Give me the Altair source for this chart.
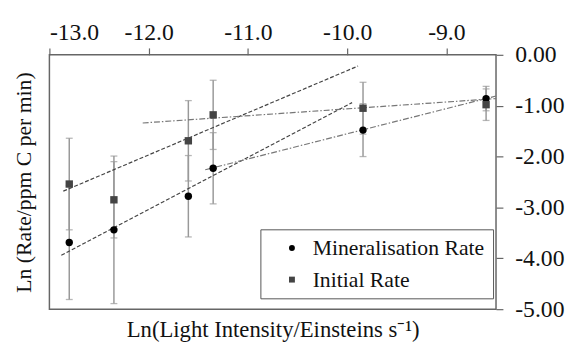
import altair as alt
import pandas as pd

# ---- data ----
ln_light = [-12.80, -12.35, -11.60, -11.35, -9.84, -8.60]
mineral_rate = [-3.69, -3.44, -2.78, -2.23, -1.48, -0.86]
mineral_err = [1.12, 1.45, 0.80, 0.70, 0.52, 0.24]
initial_rate = [-2.54, -2.85, -1.69, -1.18, -1.05, -0.98]
initial_err = [0.90, 0.75, 0.79, 0.68, 0.51, 0.31]

series_names = ["Mineralisation Rate", "Initial Rate"]

# fitted trend lines (end points)
fit_names = ["min_low", "init_low", "init_high", "min_high"]
fit_style = ["dashed", "dashed", "dashdot", "dashdot"]
fit_x = [[-12.88, -9.95], [-12.86, -9.89], [-12.06, -8.50], [-11.43, -8.50]]
fit_y = [[-3.94, -0.94], [-2.68, -0.22], [-1.34, -0.86], [-2.26, -0.81]]

x_ticks = [-13.0, -12.0, -11.0, -10.0, -9.0]
y_ticks = [0.0, -1.0, -2.0, -3.0, -4.0, -5.0]
x_domain = [-13.0, -8.5]
y_domain = [-5.0, 0.0]

x_title = "Ln(Light Intensity/Einsteins s\u207b\u00b9)"
y_title = "Ln (Rate/ppm C per min)"

# ---- tables ----
rows = []
for name, vals, errs in [(series_names[0], mineral_rate, mineral_err),
                         (series_names[1], initial_rate, initial_err)]:
    for x, v, e in zip(ln_light, vals, errs):
        rows.append({"x": x, "y": v, "lo": v - e, "hi": v + e, "series": name})
pts = pd.DataFrame(rows)

caps = pd.concat([
    pts[["x", "lo", "series"]].rename(columns={"lo": "cap"}),
    pts[["x", "hi", "series"]].rename(columns={"hi": "cap"}),
], ignore_index=True)

lrows = []
for n, s, xs_, ys_ in zip(fit_names, fit_style, fit_x, fit_y):
    for i, (xx, yy) in enumerate(zip(xs_, ys_)):
        lrows.append({"fit": n, "style": s, "x": xx, "y": yy, "order": i})
lines = pd.DataFrame(lrows)

FONT = "Liberation Serif"
xs = alt.Scale(domain=x_domain, nice=False, zero=False)
ys = alt.Scale(domain=y_domain, nice=False, zero=False)

x_top = alt.Axis(orient="top", values=x_ticks, title=None, domain=False, grid=False,
                 tickSize=7, tickColor="#666", tickWidth=1.2,
                 labelFont=FONT, labelFontSize=24, labelColor="#111", labelPadding=4,
                 labelExpr="replace(format(datum.value, '.1f'), '\u2212', '-')")
y_right = alt.Axis(orient="right", values=y_ticks, title=None, domain=False, grid=False,
                   tickSize=7, tickColor="#666", tickWidth=1.2,
                   labelFont=FONT, labelFontSize=24, labelColor="#111", labelPadding=12,
                   labelExpr="replace(format(datum.value, '.2f'), '\u2212', '-')")
x_bottom = alt.Axis(orient="bottom", labels=False, ticks=False, domain=False, grid=False,
                    title=x_title, titleFont=FONT, titleFontSize=23, titleFontWeight="normal",
                    titleColor="#111", titlePadding=10, titleLimit=0)
y_left = alt.Axis(orient="left", labels=False, ticks=False, domain=False, grid=False,
                  title=y_title, titleFont=FONT, titleFontSize=22, titleFontWeight="normal",
                  titleColor="#111", titlePadding=14, titleLimit=0)

err_rules = alt.Chart(pts).mark_rule(color="#999999", strokeWidth=1.5).encode(
    x=alt.X("x:Q", scale=xs, axis=x_top),
    y=alt.Y("lo:Q", scale=ys, axis=y_right),
    y2="hi:Q",
)

err_caps = alt.Chart(caps).mark_tick(orient="horizontal", color="#999999",
                                     size=7, thickness=1.3).encode(
    x=alt.X("x:Q", scale=xs, axis=None),
    y=alt.Y("cap:Q", scale=ys, axis=None),
)

dashed = alt.Chart(lines[lines["style"] == "dashed"]).mark_line(
    color="#444444", strokeWidth=1.2, strokeDash=[4, 2]).encode(
    x=alt.X("x:Q", scale=xs, axis=None),
    y=alt.Y("y:Q", scale=ys, axis=None),
    detail="fit:N", order="order:Q",
)

dashdot = alt.Chart(lines[lines["style"] == "dashdot"]).mark_line(
    color="#777777", strokeWidth=1.2, strokeDash=[6, 2, 1.5, 2]).encode(
    x=alt.X("x:Q", scale=xs, axis=None),
    y=alt.Y("y:Q", scale=ys, axis=None),
    detail="fit:N", order="order:Q",
)

legend = alt.Legend(title=None, orient="none", legendX=214, legendY=177,
                    strokeColor="#555555", fillColor="white", padding=8,
                    symbolOffset=13, symbolSize=36, labelOffset=10,
                    labelFont=FONT, labelFontSize=22, labelColor="#111", labelLimit=0,
                    rowPadding=10, symbolStrokeWidth=0)

points = alt.Chart(pts).mark_point(filled=True, size=56, opacity=1).encode(
    x=alt.X("x:Q", scale=xs, axis=x_bottom),
    y=alt.Y("y:Q", scale=ys, axis=y_left),
    shape=alt.Shape("series:N", scale=alt.Scale(domain=series_names, range=["circle", "square"]),
                    legend=legend),
    color=alt.Color("series:N", scale=alt.Scale(domain=series_names, range=["#000000", "#444444"]),
                    legend=legend),
)

chart = alt.layer(err_rules, err_caps, dashed, dashdot, points).resolve_axis(
    x="independent", y="independent"
).properties(
    width=453, height=258,
    autosize=alt.AutoSizeParams(type="none"),
    padding={"left": 42, "top": 45, "right": 72, "bottom": 45},
    background="white",
).configure_view(stroke="#666666", strokeWidth=1.5)

chart.save("out.html", embed_options={"renderer": "svg", "actions": False})
